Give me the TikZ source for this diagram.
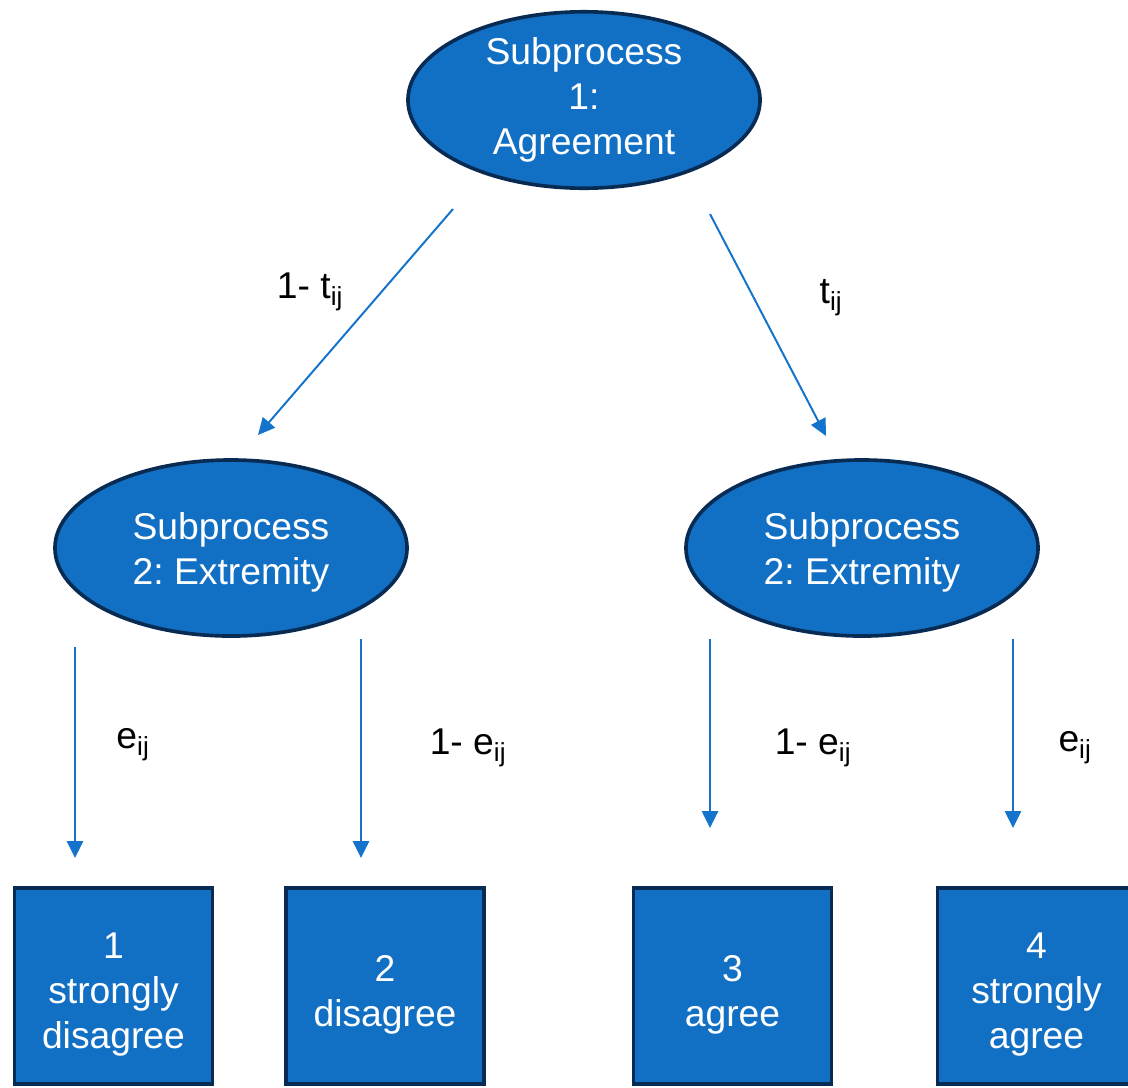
\documentclass[tikz,border=0pt]{standalone}
\usepackage{fontspec}
\setmainfont{Liberation Sans}
\usetikzlibrary{arrows.meta,shapes.geometric}
\definecolor{boxblue}{RGB}{18,112,196}
\definecolor{edgenavy}{RGB}{8,43,84}
\definecolor{arrblue}{RGB}{20,115,202}
\frenchspacing
% pushes a node's text a bit downwards
\newcommand{\padtop}[1]{\rule{0pt}{#1}}

\begin{document}
\begin{tikzpicture}[x=0.025cm,y=-0.025cm,
		ellip/.style={ellipse, draw=edgenavy, line width=2.6pt, fill=boxblue, text=white,
			minimum width=8.8cm, minimum height=4.4cm, inner sep=0pt, align=center,
			font=\fontsize{26.5}{32}\selectfont},
		catbox/.style={rectangle, draw=edgenavy, line width=2.6pt, fill=boxblue, text=white,
			minimum width=4.95cm, minimum height=4.9cm, inner sep=0pt, align=center,
			font=\fontsize{26.5}{32}\selectfont},
		arr/.style={draw=arrblue, line width=1.4pt, -{Triangle[length=0.42cm,width=0.4cm]}},
		lbl/.style={font=\fontsize{26.5}{32}\selectfont}]
	\useasboundingbox (0,0) rectangle (1128,1087);
	% subprocess nodes
	\node[ellip] (agree) at (584,100) {Subprocess\\1:\\Agreement};
	\node[ellip] (extL) at (231,548) {\padtop{26pt}Subprocess\\2: Extremity};
	\node[ellip] (extR) at (862,548) {\padtop{26pt}Subprocess\\2: Extremity};
	% response categories
	\node[catbox] (cat1) at (113.5,986) {\padtop{31pt}1\\strongly\\disagree};
	\node[catbox] (cat2) at (385,986) {\padtop{31pt}2\\disagree};
	\node[catbox] (cat3) at (732.5,986) {\padtop{31pt}3\\agree};
	\node[catbox] (cat4) at (1036.5,986) {\padtop{31pt}4\\strongly\\agree};
	% arrow ends
	\coordinate (aL0) at (453,209);
	\coordinate (aL1) at (258,435);
	\coordinate (aR0) at (710,214);
	\coordinate (aR1) at (826,436);
	\coordinate (e10) at (75,647);
	\coordinate (e11) at (75,858);
	\coordinate (e20) at (361,639);
	\coordinate (e21) at (361,858);
	\coordinate (e30) at (710,639);
	\coordinate (e31) at (710,828);
	\coordinate (e40) at (1013,639);
	\coordinate (e41) at (1013,828);
	\draw[arr] (aL0) -- (aL1);
	\draw[arr] (aR0) -- (aR1);
	\draw[arr] (e10) -- (e11);
	\draw[arr] (e20) -- (e21);
	\draw[arr] (e30) -- (e31);
	\draw[arr] (e40) -- (e41);
	% branch probabilities
	\node[lbl] (pL) at (310,292) {1- t\textsubscript{ij}};
	\node[lbl] (pR) at (831,298) {t\textsubscript{ij}};
	\node[lbl] (p1) at (133,745) {e\textsubscript{ij}};
	\node[lbl] (p2) at (468,748) {1- e\textsubscript{ij}};
	\node[lbl] (p3) at (813,748) {1- e\textsubscript{ij}};
	\node[lbl] (p4) at (1075,748) {e\textsubscript{ij}};
\end{tikzpicture}
\end{document}
